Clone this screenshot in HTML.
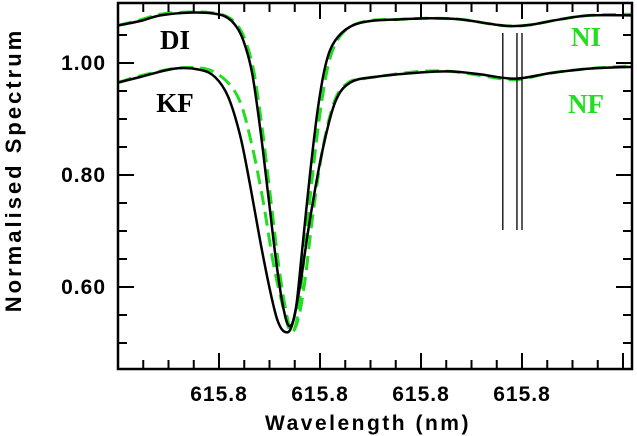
<!DOCTYPE html>
<html><head><meta charset="utf-8"><style>
html,body{margin:0;padding:0;background:#fff;}
svg{display:block;font-family:"Liberation Sans",sans-serif;font-weight:bold;}
</style></head><body>
<svg id="c" width="637" height="436"></svg>
<script>
const xTickLabels=["615.8","615.8","615.8","615.8"];
const yTickValues=[0.60,0.80,1.00];
const diX=[0,0.22,0.42,0.71,0.96,1.09,1.19,1.26,1.33,1.41,1.49,1.57,1.64,1.70,1.76,1.82,1.90,1.98,2.06,2.15,2.30,2.50,2.79,3.09,3.39,3.68,3.88,4.08,4.38,4.67,5.09];
const diY=[1.067,1.075,1.085,1.09,1.088,1.08,1.06,1.03,0.98,0.88,0.76,0.64,0.56,0.53,0.56,0.66,0.80,0.92,1.0,1.04,1.065,1.075,1.078,1.08,1.078,1.07,1.066,1.068,1.078,1.085,1.085];
const niX=[0,0.22,0.42,0.71,0.96,1.11,1.21,1.28,1.35,1.43,1.51,1.59,1.66,1.72,1.78,1.84,1.92,2.00,2.08,2.17,2.30,2.50,2.79,3.09,3.39,3.68,3.88,4.08,4.38,4.67,5.09];
const niY=[1.067,1.077,1.087,1.091,1.089,1.08,1.06,1.03,0.98,0.88,0.76,0.64,0.56,0.52,0.55,0.65,0.79,0.91,0.995,1.04,1.065,1.076,1.078,1.08,1.078,1.07,1.066,1.068,1.078,1.085,1.087];
const kfX=[0,0.22,0.56,0.81,0.96,1.09,1.21,1.31,1.41,1.51,1.58,1.65,1.72,1.80,1.90,2.02,2.15,2.30,2.54,2.99,3.29,3.58,3.93,4.28,4.67,5.09];
const kfY=[0.965,0.975,0.99,0.988,0.975,0.94,0.87,0.78,0.68,0.59,0.54,0.52,0.53,0.60,0.72,0.84,0.93,0.965,0.975,0.983,0.985,0.98,0.972,0.982,0.99,0.993];
const nfX=[0,0.22,0.56,0.86,1.06,1.21,1.33,1.44,1.54,1.64,1.71,1.78,1.85,1.93,2.03,2.15,2.28,2.43,2.62,2.99,3.29,3.58,3.93,4.28,4.67,5.09];
const nfY=[0.965,0.977,0.99,0.99,0.97,0.93,0.85,0.75,0.64,0.56,0.52,0.54,0.61,0.73,0.85,0.935,0.965,0.972,0.977,0.985,0.985,0.978,0.97,0.982,0.99,0.995];
const markX=[3.81,3.95,4.0];

const L=118,R=632,T=3,B=369;
const X=u=>L+u*101;
const Y=v=>63+(1.0-v)*560;
const svg=document.getElementById('c');
const NS="http://www.w3.org/2000/svg";
function mk(tag,attrs,name){const e=document.createElementNS(NS,tag);for(const k in attrs)e.setAttribute(k,attrs[k]);


svg.appendChild(e);return e;}
function path(xs,ys){const p=xs.map((x,i)=>[X(x),Y(ys[i])]);let d="M"+p[0][0]+","+p[0][1];
for(let i=0;i<p.length-1;i++){const p0=p[Math.max(0,i-1)],p1=p[i],p2=p[i+1],p3=p[Math.min(p.length-1,i+2)];
d+=" C"+(p1[0]+(p2[0]-p0[0])/6)+","+(p1[1]+(p2[1]-p0[1])/6)+" "+(p2[0]-(p3[0]-p1[0])/6)+","+(p2[1]-(p3[1]-p1[1])/6)+" "+p2[0]+","+p2[1];}return d;}
const clip=mk('clipPath',{id:'cp'},'plot-clip');
const cr=document.createElementNS(NS,'rect');cr.setAttribute('x',L);cr.setAttribute('y',T);cr.setAttribute('width',R-L);cr.setAttribute('height',B-T);clip.appendChild(cr);
mk('path',{d:path(niX,niY),fill:'none',stroke:'#22dd22','stroke-width':3,'stroke-dasharray':'14,7','clip-path':'url(#cp)'},'ni-series');
mk('path',{d:path(nfX,nfY),fill:'none',stroke:'#22dd22','stroke-width':3,'stroke-dasharray':'14,7','clip-path':'url(#cp)'},'nf-series');
mk('path',{d:path(diX,diY),fill:'none',stroke:'#000','stroke-width':2.5,'clip-path':'url(#cp)'},'di-series');
mk('path',{d:path(kfX,kfY),fill:'none',stroke:'#000','stroke-width':2.5,'clip-path':'url(#cp)'},'kf-series');
markX.forEach(m=>mk('line',{x1:X(m),x2:X(m),y1:33,y2:230,stroke:'#000','stroke-width':1.3},'line-marker'));
mk('rect',{x:L,y:T,width:R-L,height:B-T,fill:'none',stroke:'#000','stroke-width':2.5},'plot-frame');
for(let i=1;i*0.25<5.09;i++){const x=X(i*0.25),len=i%4==0?16:9;
mk('line',{x1:x,x2:x,y1:B,y2:B-len,stroke:'#000','stroke-width':2},'x-tick');
mk('line',{x1:x,x2:x,y1:T,y2:T+len,stroke:'#000','stroke-width':2},'x-tick');}
xTickLabels.forEach((t,i)=>{const e=mk('text',{x:X(i+1),y:401,'text-anchor':'middle','font-size':21,'letter-spacing':'1'},'x-tick-label');e.textContent=t;});
for(let v=0.5;v<=1.1;v+=0.05){const y=Y(v);if(y<T+2||y>B-2)continue;const maj=Math.abs(v*10-Math.round(v*10))<0.01&&Math.round(v*10)%2==0;const len=maj?16:9;
mk('line',{x1:L,x2:L+len,y1:y,y2:y,stroke:'#000','stroke-width':2},'y-tick');
mk('line',{x1:R,x2:R-len,y1:y,y2:y,stroke:'#000','stroke-width':2},'y-tick');}
yTickValues.forEach(v=>{const e=mk('text',{x:106,y:Y(v)+7,'text-anchor':'end','font-size':21,'letter-spacing':'1'},'y-tick-label');e.textContent=v.toFixed(2);});
let e=mk('text',{x:368,y:430,'text-anchor':'middle','font-size':21,'letter-spacing':'2.5'},'x-axis-title');e.textContent="Wavelength (nm)";
e=mk('text',{x:0,y:0,'text-anchor':'middle','font-size':22,'letter-spacing':'3',transform:'translate(21,170) rotate(-90)'},'y-axis-title');e.textContent="Normalised Spectrum";
e=mk('text',{x:175,y:49,'text-anchor':'middle','font-size':27,'font-family':'Liberation Serif'},'label-di');e.textContent="DI";
e=mk('text',{x:175,y:112,'text-anchor':'middle','font-size':27,'font-family':'Liberation Serif'},'label-kf');e.textContent="KF";
e=mk('text',{x:586,y:46,'text-anchor':'middle','font-size':27,'font-family':'Liberation Serif',fill:'#22dd22'},'label-ni');e.textContent="NI";
e=mk('text',{x:586,y:113,'text-anchor':'middle','font-size':27,'font-family':'Liberation Serif',fill:'#22dd22'},'label-nf');e.textContent="NF";
</script>
</body></html>
